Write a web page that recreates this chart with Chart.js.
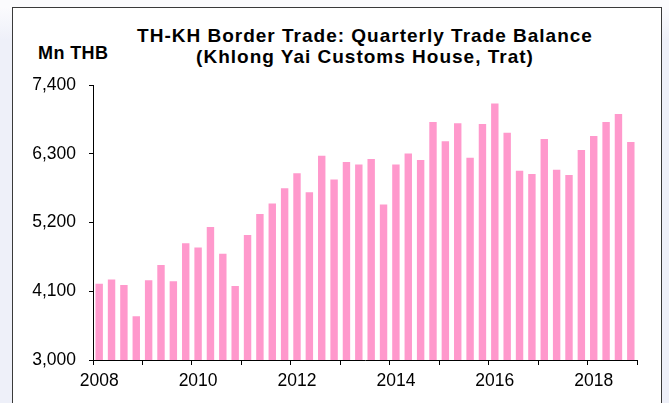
<!DOCTYPE html>
<html>
<head>
<meta charset="utf-8">
<script src="https://cdn.jsdelivr.net/npm/chart.js@4"></script>
<style>
  html, body { margin: 0; padding: 0; }
  body { width: 669px; height: 403px; overflow: hidden; background: linear-gradient(#fbfbfd 0, #fbfbfd 7px, #eef0f9 40px); position: relative; font-family: "Liberation Sans", Arial, sans-serif; }
  #frame { position: absolute; left: 12px; top: 7px; width: 648px; height: 420px; border: 1px solid #3a3a3a; background: #fff; }
  #wrap { position: absolute; left: 0; top: 0; width: 669px; height: 403px; }
  .title { position: absolute; left: 0; width: 730px; text-align: center; font-weight: bold; font-size: 19px; letter-spacing: 1px; line-height: 21px; color: #000; white-space: nowrap; }
  #unit { position: absolute; left: 38px; top: 43px; font-weight: bold; font-size: 18px; letter-spacing: 0.4px; line-height: 20px; color: #000; }
</style>
</head>
<body>
<div id="frame"></div>
<div class="title" style="top:25px">TH-KH Border Trade: Quarterly Trade Balance</div>
<div class="title" style="top:46px">(Khlong Yai Customs House, Trat)</div>
<div id="unit">Mn THB</div>
<div id="wrap"><canvas id="myChart" width="669" height="403"></canvas></div>
<script>
// quarterly categories, 2008Q1 - 2018Q4
const quarters = [
  "2008Q1", "2008Q2", "2008Q3", "2008Q4",
  "2009Q1", "2009Q2", "2009Q3", "2009Q4",
  "2010Q1", "2010Q2", "2010Q3", "2010Q4",
  "2011Q1", "2011Q2", "2011Q3", "2011Q4",
  "2012Q1", "2012Q2", "2012Q3", "2012Q4",
  "2013Q1", "2013Q2", "2013Q3", "2013Q4",
  "2014Q1", "2014Q2", "2014Q3", "2014Q4",
  "2015Q1", "2015Q2", "2015Q3", "2015Q4",
  "2016Q1", "2016Q2", "2016Q3", "2016Q4",
  "2017Q1", "2017Q2", "2017Q3", "2017Q4",
  "2018Q1", "2018Q2", "2018Q3", "2018Q4",
];

// trade balance, Mn THB
const balance = [
  4220, 4290, 4200, 3700,
  4275, 4520, 4260, 4870,
  4800, 5130, 4700, 4185,
  5000, 5335, 5505, 5750,
  5990, 5685, 6270, 5890,
  6170, 6130, 6215, 5490,
  6130, 6305, 6200, 6810,
  6500, 6790, 6235, 6775,
  7105, 6635, 6030, 5975,
  6535, 6045, 5960, 6360,
  6585, 6810, 6935, 6490,
];

// x labels shown (one every two years)
const yearLabels = ["2008", "2010", "2012", "2014", "2016", "2018"];

// y axis ticks
const yTicks = [3000, 4100, 5200, 6300, 7400];

const tickFont = { family: "Liberation Sans", size: 17.5 };

const chartContext = document.getElementById("myChart").getContext("2d");

const chart = new Chart(chartContext, {
  type: "bar",
  data: {
    labels: quarters,
    datasets: [
      {
        label: "Trade balance",
        data: balance,
        backgroundColor: "#ff99cc",
        borderWidth: 0,
        barPercentage: 0.6,
        categoryPercentage: 1.0,
      },
    ],
  },
  options: {
    responsive: false,
    animation: false,
    layout: {
      padding: { left: 0, right: 32, top: 85, bottom: 0 },
    },
    plugins: {
      legend: { display: false },
      tooltip: { enabled: false },
    },
    scales: {
      x: {
        type: "category",
        offset: true,
        grid: {
          offset: true,
          drawOnChartArea: false,
          tickLength: 5,
          // tick marks only at year boundaries
          tickColor: (ctx) =>
            ctx.index === undefined || ctx.index % 4 === 0 ? "#000" : "rgba(0,0,0,0)",
        },
        border: { display: true, color: "#000", width: 1 },
        ticks: {
          autoSkip: false,
          maxRotation: 0,
          minRotation: 0,
          padding: 6,
          color: "#000",
          font: tickFont,
          callback: function (value, index) {
            const year = quarters[index].slice(0, 4);
            return quarters[index].endsWith("Q1") && yearLabels.includes(year) ? year : "";
          },
        },
        afterFit: (scale) => {
          scale.height = 43;
        },
      },
      y: {
        min: yTicks[0],
        max: yTicks[yTicks.length - 1],
        grid: {
          drawOnChartArea: false,
          tickLength: 4,
          tickColor: "#000",
        },
        border: { display: true, color: "#000", width: 1 },
        ticks: {
          stepSize: yTicks[1] - yTicks[0],
          padding: 13,
          color: "#000",
          font: tickFont,
          callback: (value) => value.toLocaleString("en-US"),
        },
        afterFit: (scale) => {
          scale.width = 93;
        },
      },
    },
  },
});
</script>
</body>
</html>
